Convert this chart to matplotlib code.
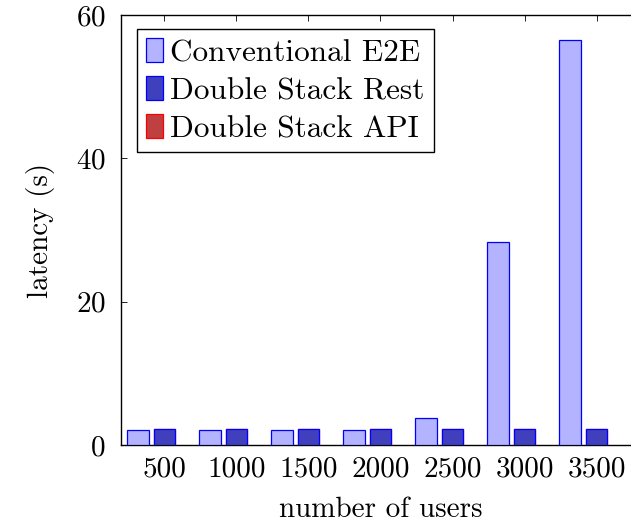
import matplotlib
matplotlib.use("Agg")
import matplotlib.pyplot as plt
import numpy as np

users = ["500", "1000", "1500", "2000", "2500", "3000", "3500"]
conventional_e2e = [2.1, 2.1, 2.1, 2.1, 3.7, 28.3, 56.5]
double_stack_rest = [2.2, 2.2, 2.2, 2.2, 2.2, 2.2, 2.2]
double_stack_api = [2.25, 2.25, 2.25, 2.25, 2.25, 2.25, 2.25]

plt.rcParams['font.family'] = ['cmr10', 'DejaVu Serif']
plt.rcParams['axes.formatter.use_mathtext'] = True
plt.rcParams['mathtext.fontset'] = 'cm'

fig = plt.figure(figsize=(6.31, 5.28), dpi=100)
ax = fig.add_axes([121/631, 83/528, (640-121)/631, 430/528])

x = np.arange(len(users))
w = 0.30
off = 0.368
ax.bar(x - off, conventional_e2e, width=w, color='#b3b3ff', edgecolor='blue', linewidth=0.9,
       label='Conventional E2E', zorder=3)
ax.bar(x, double_stack_api, width=w, color='#bf4040', edgecolor='red', linewidth=0.9,
       label='Double Stack API', zorder=2)
ax.bar(x, double_stack_rest, width=w, color='#4040bf', edgecolor='blue', linewidth=0.9,
       label='Double Stack Rest', zorder=3)

ax.set_xlim(-0.604, 6.604)
ax.set_ylim(0, 60)
ax.set_xticks(x)
ax.set_xticklabels(users)
ax.set_yticks([0, 20, 40, 60])
ax.tick_params(direction='in', top=True, right=True, length=4, width=0.6, labelsize=21, pad=8)
ax.tick_params(axis='y', pad=11)
for s in ax.spines.values():
    s.set_linewidth(1.0)

ax.set_xlabel('number of users', fontsize=21, labelpad=10)
ax.set_ylabel('latency (s)', fontsize=21, labelpad=15)

h, l = ax.get_legend_handles_labels()
order = [0, 2, 1]
leg = ax.legend([h[i] for i in order], [l[i] for i in order], loc='upper left',
                bbox_to_anchor=(16/519, 1 - 14/430), fontsize=22.5,
                handlelength=0.52, handleheight=0.78, handletextpad=0.25,
                labelspacing=0.3, borderpad=0.3, borderaxespad=0,
                frameon=True, fancybox=False, edgecolor='black', framealpha=1)
leg.get_frame().set_linewidth(1.0)

fig.savefig('out.png', dpi=100)
